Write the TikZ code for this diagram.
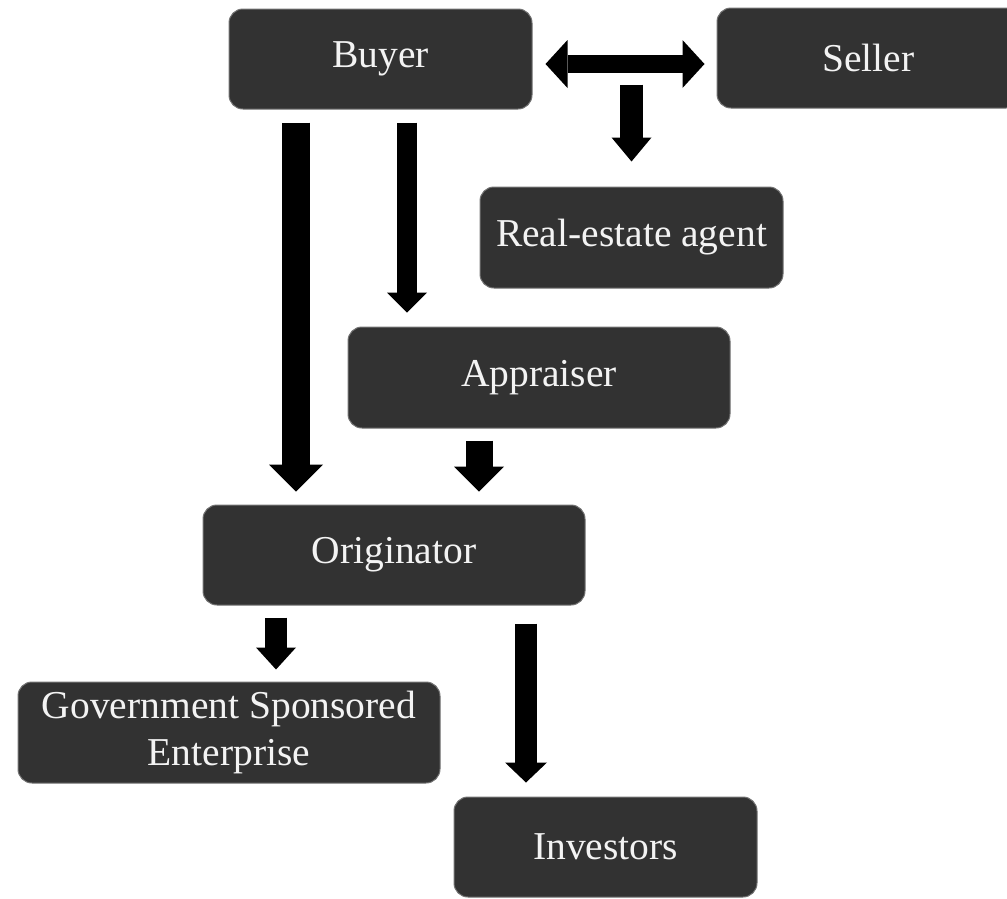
\documentclass[tikz,border=0pt]{standalone}
\usepackage{fontspec}
\setmainfont{Liberation Serif}
\usetikzlibrary{arrows.meta}
\definecolor{boxfill}{RGB}{50,50,50}
\definecolor{boxedge}{RGB}{115,115,115}
\definecolor{boxtext}{RGB}{243,243,243}
\begin{document}
\begin{tikzpicture}[x=1pt,y=-1pt,
  box/.style={rounded corners=14pt, fill=boxfill, draw=boxedge, line width=1pt,
    text=boxtext, font=\fontsize{39.5}{47}\selectfont, align=center, inner sep=0pt},
  barrow/.style n args={3}{line width=#1, -{Triangle[width=#2,length=#3,line width=0pt]}},
  ]
\useasboundingbox (0,0) rectangle (1007,898);
\node[box, minimum width=303pt, minimum height=100pt] (buyer) at (380.5,59) {Buyer};
\node[box, minimum width=303pt, minimum height=100pt] (seller) at (868.5,58) {Seller};
\node[box, minimum width=303pt, minimum height=101pt] (agent) at (631.5,237.5) {Real-estate agent};
\node[box, minimum width=382pt, minimum height=101pt] (appr) at (539,377.5) {Appraiser};
\node[box, minimum width=382pt, minimum height=100pt] (orig) at (394,555) {Originator};
\node[box, minimum width=422pt, minimum height=101pt] (gse) at (229,732.5) {Government Sponsored\\Enterprise};
\node[box, minimum width=303pt, minimum height=100pt] (inv) at (605.5,847) {Investors};
% buyer <-> seller
\draw[line width=18pt,
  {Triangle[width=48pt,length=22pt,line width=0pt]}-{Triangle[width=48pt,length=22pt,line width=0pt]},
  shorten <=13pt, shorten >=12pt]
  ([yshift=-5pt]buyer.east) -- ([yshift=-6pt]seller.west);
% down to agent
\draw[barrow={23pt}{40pt}{24pt}] ([yshift=102pt]agent.north) -- ([yshift=25pt]agent.north);
% buyer -> originator
\draw[barrow={28pt}{54pt}{27pt}, shorten <=13pt, shorten >=13pt]
  ([xshift=-84.5pt]buyer.south) -- ([xshift=-98pt]orig.north);
% buyer -> appraiser
\draw[barrow={20pt}{40pt}{20pt}, shorten <=13pt, shorten >=14pt]
  ([xshift=26.5pt]buyer.south) -- ([xshift=-132pt]appr.north);
% appraiser -> originator
\draw[barrow={27pt}{50pt}{25pt}, shorten <=12pt, shorten >=13pt]
  ([xshift=-60pt]appr.south) -- ([xshift=85pt]orig.north);
% originator -> GSE
\draw[barrow={22pt}{40pt}{22pt}, shorten <=12pt, shorten >=12pt]
  ([xshift=-118pt]orig.south) -- ([xshift=47pt]gse.north);
% originator -> investors
\draw[barrow={22pt}{42pt}{20pt}, shorten <=18pt, shorten >=14pt]
  ([xshift=132pt]orig.south) -- ([xshift=-79.5pt]inv.north);
\end{tikzpicture}
\end{document}
